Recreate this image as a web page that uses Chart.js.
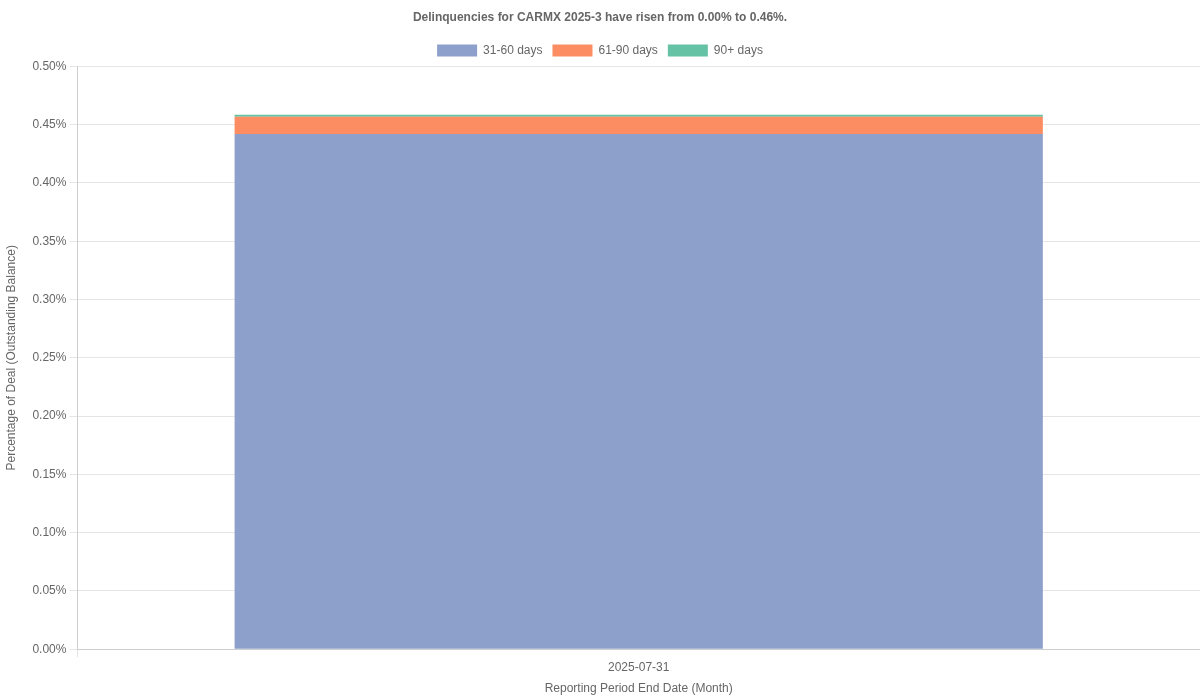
<!DOCTYPE html>
<html>
<head>
<meta charset="utf-8">
<script src="https://cdn.jsdelivr.net/npm/chart.js@4"></script>
<style>
  html, body { margin: 0; padding: 0; background: #fff; }
  #wrap { width: 1200px; height: 700px; }
</style>
</head>
<body>
<div id="wrap"><canvas id="myChart"></canvas></div>
<script>
const Perioden = ["2025-07-31"];
const Werte3160 = [0.442];
const Werte6190 = [0.0148];
const Werte90 = [0.0017];

Chart.defaults.font.family = "Liberation Sans, Arial, sans-serif";
Chart.defaults.color = "#666";

const ctx = document.getElementById('myChart');

new Chart(ctx, {
  type: 'bar',
  data: {
    labels: Perioden,
    datasets: [{
      label: '31-60 days',
      data: Werte3160,
      backgroundColor: '#8da0cb',
      borderColor: '#8da0cb',
      borderWidth: 0
    },{
      label: '61-90 days',
      data: Werte6190,
      backgroundColor: '#fc8d62',
      borderColor: '#fc8d62',
      borderWidth: 0
    },{
      label: '90+ days',
      data: Werte90,
      backgroundColor: '#66c2a5',
      borderColor: '#66c2a5',
      borderWidth: 0
    }]
  },
  options: {
    responsive: true,
    maintainAspectRatio: false,
    animation: false,
    plugins: {
      title: {
        display: true,
        text: 'Delinquencies for CARMX 2025-3 have risen from 0.00% to 0.46%.',
        font: { size: 12, weight: 'bold' },
        padding: { top: 10, bottom: 10 }
      },
      legend: {
        labels: { boxWidth: 40, boxHeight: 12, font: { size: 12 } }
      }
    },
    scales: {
      x: {
        stacked: true,
        title: { display: true, text: 'Reporting Period End Date (Month)', font: { size: 12 } },
        grid: { display: true }
      },
      y: {
        stacked: true,
        min: 0,
        max: 0.5,
        ticks: {
          stepSize: 0.05,
          font: { size: 12 },
          callback: v => v.toFixed(2) + '%'
        },
        title: {
          display: true,
          text: 'Percentage of Deal (Outstanding Balance)',
          font: { size: 12 },
          padding: { top: 4, bottom: 11 }
        }
      }
    }
  }
});
</script>
</body>
</html>
